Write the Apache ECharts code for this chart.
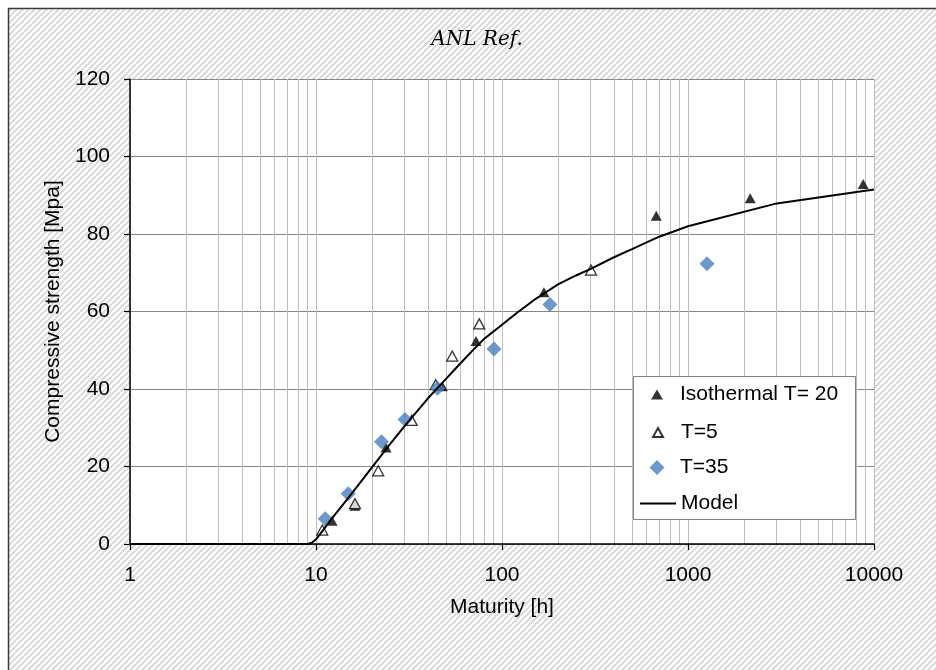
<!DOCTYPE html>
<html>
<head>
<meta charset="utf-8">
<script src="https://cdn.jsdelivr.net/npm/echarts@6/dist/echarts.min.js"></script>
<style>
  html, body { margin: 0; padding: 0; background: #fff; }
  #chart { width: 936px; height: 670px; }
</style>
</head>
<body>
<div id="chart"></div>
<script>
// Compressive strength [MPa] against maturity [h]
const iso20X = [12.2, 16.2, 23.8, 47.8, 72.5, 168, 675, 2160, 8750];
const iso20Y = [6.0, 9.9, 24.9, 40.7, 52.4, 65.0, 84.7, 89.2, 92.9];

const t5X = [10.8, 16.2, 21.6, 32.7, 44.0, 54.0, 75.5, 301];
const t5Y = [3.6, 10.4, 18.9, 31.9, 41.1, 48.5, 56.8, 70.7];

const t35X = [11.2, 14.9, 22.5, 30.1, 45.0, 90.6, 181, 1265];
const t35Y = [6.5, 13.0, 26.4, 32.1, 40.2, 50.3, 61.8, 72.3];

const modelX = [1, 2, 5, 8, 9, 9.5, 10, 11, 12, 14, 16, 20, 25, 30, 40, 50, 60, 70, 80, 100,
                120, 150, 200, 250, 300, 400, 500, 700, 1000, 3000, 10000];
const modelY = [0, 0, 0, 0, 0, 0.3, 1.2, 3.8, 6.2, 10.2, 13.8, 19.8, 25.8, 30.5, 37.6, 42.6,
                46.7, 50.1, 52.9, 56.6, 59.6, 63.1, 67.0, 69.3, 71.0, 74.0, 76.1, 79.3, 82.0, 87.9, 91.5];

const yTicks = [0, 20, 40, 60, 80, 100, 120];
const xTickLabels = ['1', '10', '100', '1000', '10000'];
// intermediate vertical grid lines (2..9 in each decade)
const minorGridX = [2, 3, 4, 5, 6, 7, 8, 9,
                    20, 30, 40, 50, 60, 70, 80, 90,
                    200, 300, 400, 500, 600, 700, 800, 900,
                    2000, 3000, 4000, 5000, 6000, 7000, 8000, 9000];

const FONT = '"Liberation Sans", Arial, sans-serif';
const TXT = { fontFamily: FONT, fontSize: 21, color: '#000' };

function pairs(xs, ys) { return xs.map((x, i) => [x, ys[i]]); }

// diagonal hatch tile for the chart background
function hatchTile() {
  const n = 6;
  const c = document.createElement('canvas');
  c.width = n; c.height = n;
  const ctx = c.getContext('2d');
  const img = ctx.createImageData(n, n);
  for (let y = 0; y < n; y++) {
    for (let x = 0; x < n; x++) {
      const on = (x + y) % n < 3;
      const v = on ? 0xdc : 0xff;
      const k = (y * n + x) * 4;
      img.data[k] = v; img.data[k + 1] = v; img.data[k + 2] = v; img.data[k + 3] = 255;
    }
  }
  ctx.putImageData(img, 0, 0);
  return c;
}

const chart = echarts.init(document.getElementById('chart'), null, { renderer: 'canvas' });

// one legend block per entry so each marker keeps its own size
const legendRows = [
  { name: 'Isothermal T= 20', w: 12, h: 10, left: 651, pad: 12, top: 384 },
  { name: 'T=5', w: 10, h: 9, left: 652, pad: 13, top: 422 },
  { name: 'T=35', w: 15, h: 15, left: 649.5, pad: 10.5, top: 457 },
  { name: 'Model', w: 36, h: 2, left: 640, pad: 0, top: 493, icon: 'rect' }
];

chart.setOption({
  animation: false,
  backgroundColor: '#fff',
  graphic: [
    {
      type: 'rect', z: -1, silent: true,
      shape: { x: 8.5, y: 8.5, width: 960, height: 700 },
      style: { fill: { image: hatchTile(), repeat: 'repeat' }, stroke: '#3a3a3a', lineWidth: 1.5 }
    },
    {
      type: 'text', z: 1, silent: true,
      x: 477, y: 40,
      style: { text: 'ANL Ref.', font: 'italic 20px "DejaVu Serif", serif', fill: '#000',
               align: 'center', verticalAlign: 'middle' }
    },
    {
      type: 'rect', z: 3, silent: true,
      shape: { x: 633.5, y: 376.5, width: 222, height: 143 },
      style: { fill: '#fff', stroke: '#808080', lineWidth: 1 }
    }
  ],
  grid: {
    left: 130, top: 79, width: 744, height: 465,
    show: true, backgroundColor: '#fff', borderWidth: 0
  },
  legend: legendRows.map(r => ({
    data: [r.icon ? { name: r.name, icon: r.icon } : r.name],
    left: r.left, top: r.top,
    padding: 0,
    itemWidth: r.w, itemHeight: r.h,
    selectedMode: false,
    textStyle: { ...TXT, padding: [0, 0, 0, r.pad] }
  })),
  xAxis: {
    type: 'log', logBase: 10, min: 1, max: 10000,
    name: 'Maturity [h]', nameLocation: 'middle', nameGap: 53,
    nameTextStyle: TXT,
    axisLine: { show: true, onZero: false, lineStyle: { color: '#000', width: 1.5 } },
    axisTick: { show: true, inside: false, length: 6, lineStyle: { color: '#000', width: 1.2 } },
    axisLabel: {
      ...TXT, margin: 21,
      formatter: v => xTickLabels[Math.round(Math.log10(v))]
    },
    splitLine: { show: true, lineStyle: { color: '#bfbfbf', width: 1 } },
    minorTick: { show: false },
    minorSplitLine: { show: false }
  },
  yAxis: {
    type: 'value', min: yTicks[0], max: yTicks[yTicks.length - 1], interval: 20,
    name: 'Compressive strength [Mpa]', nameLocation: 'middle', nameGap: 57,
    nameTextStyle: TXT,
    axisLine: { show: true, lineStyle: { color: '#000', width: 1.5 } },
    axisTick: { show: true, inside: false, length: 6, lineStyle: { color: '#000', width: 1.2 } },
    axisLabel: { ...TXT, margin: 20 },
    splitLine: { show: true, lineStyle: { color: '#868686', width: 1 } }
  },
  series: [
    {
      name: 'grid', type: 'scatter', data: [], silent: true, z: 0,
      markLine: {
        z: 0, silent: true, animation: false,
        symbol: ['none', 'none'],
        label: { show: false },
        lineStyle: { color: '#bfbfbf', width: 1, type: 'solid' },
        emphasis: { disabled: true },
        data: minorGridX.map(v => ({ xAxis: v }))
      }
    },
    {
      name: 'Isothermal T= 20', type: 'scatter',
      symbol: 'triangle', symbolSize: [11, 10],
      itemStyle: { color: '#000' },
      data: pairs(iso20X, iso20Y)
    },
    {
      name: 'T=5', type: 'scatter',
      symbol: 'triangle', symbolSize: [11, 10],
      itemStyle: { color: '#fff', borderColor: '#000', borderWidth: 1.3 },
      data: pairs(t5X, t5Y)
    },
    {
      name: 'T=35', type: 'scatter',
      symbol: 'diamond', symbolSize: 15,
      itemStyle: { color: '#4a7ebb' },
      data: pairs(t35X, t35Y)
    },
    {
      name: 'Model', type: 'line',
      showSymbol: false, symbol: 'none',
      lineStyle: { color: '#000', width: 2 },
      itemStyle: { color: '#000' },
      data: pairs(modelX, modelY)
    }
  ]
});
</script>
</body>
</html>
